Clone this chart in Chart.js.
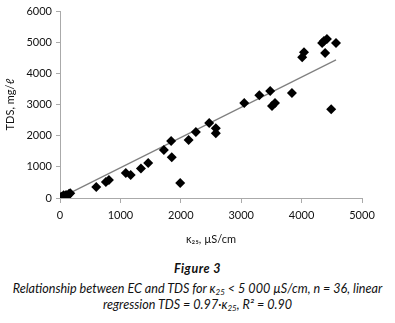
<!DOCTYPE html>
<html>
<head>
<meta charset="utf-8">
<script src="https://cdn.jsdelivr.net/npm/chart.js@4.4.1/dist/chart.umd.min.js"></script>
<style>
  body { margin: 0; background: #fff; }
  #wrap { position: relative; width: 395px; height: 323px; }
  #box { position: absolute; left: 0; top: 0; width: 395px; height: 250px; }
  .cap { position: absolute; left: 0; width: 395px; text-align: center; font-family: Lato, "Open Sans", sans-serif; font-style: italic; color: #111; }
  #fig { top: 261px; font-size: 12.5px; font-weight: bold; letter-spacing: 0.5px; }
  #l1 { top: 281px; font-size: 12.6px; }
  #l2 { top: 297px; font-size: 12.6px; }
  sub { font-size: 8px; vertical-align: -2px; }
</style>
</head>
<body>
<div id="wrap">
  <div id="box"><canvas id="grafica"></canvas></div>
  <div class="cap" id="fig">Figure 3</div>
  <div class="cap" id="l1">Relationship between EC and TDS for κ<sub>25</sub> &lt; 5 000 µS/cm, n = 36, linear</div>
  <div class="cap" id="l2">regression TDS = 0.97·κ<sub>25</sub>, R² = 0.90</div>
</div>
<script>
// conductividad k25 (uS/cm) y TDS (mg/l)
const conductividad = [20, 60, 100, 150, 170, 600, 760, 810, 1090, 1170, 1340, 1460,
    1720, 1840, 1850, 1990, 2130, 2250, 2470, 2580, 2580, 3050, 3300, 3480, 3510, 3560,
    3840, 4010, 4040, 4340, 4370, 4420, 4390, 4570, 4490, 120];
const tds = [40, 90, 100, 140, 150, 350, 510, 580, 800, 740, 950, 1120,
    1540, 1830, 1310, 480, 1860, 2120, 2410, 2240, 2080, 3050, 3300, 3430, 2950, 3050,
    3370, 4520, 4680, 4970, 5040, 5100, 4650, 4970, 2850, 60];
const pendiente = 0.97;
const ticksX = [0, 1000, 2000, 3000, 4000, 5000];
const ticksY = [0, 1000, 2000, 3000, 4000, 5000, 6000];

const puntos = conductividad.map((x, i) => ({ x: x, y: tds[i] }));
const xMin = Math.min(...conductividad);
const xMax = Math.max(...conductividad);
const recta = [{ x: xMin, y: pendiente * xMin }, { x: xMax, y: pendiente * xMax }];

const fuente = { family: 'Lato, "Open Sans", sans-serif', size: 11 };

const ctx = document.getElementById('grafica').getContext('2d');
new Chart(ctx, {
    type: 'scatter',
    data: {
        datasets: [{
            label: 'TDS',
            data: puntos,
            pointStyle: 'rectRot',
            pointRadius: 5,
            backgroundColor: '#000',
            borderColor: '#000',
            borderWidth: 0
        }, {
            type: 'line',
            label: 'Lineal',
            data: recta,
            borderColor: '#808080',
            borderWidth: 1.3,
            pointRadius: 0,
            fill: false
        }]
    },
    options: {
        responsive: true,
        maintainAspectRatio: false,
        animation: false,
        layout: { padding: { top: 11, right: 33, left: 0, bottom: 0 } },
        plugins: { legend: { display: false }, tooltip: { enabled: false } },
        scales: {
            x: {
                type: 'linear',
                min: 0, max: 5000,
                afterBuildTicks: s => { s.ticks = ticksX.map(v => ({ value: v })); },
                afterFit: s => { s.height = 52; },
                grid: { drawOnChartArea: false, drawTicks: true, tickLength: 5, color: '#aaa' },
                border: { color: '#aaa' },
                ticks: { color: '#111', font: fuente, padding: 6, maxRotation: 0, callback: v => String(v) },
                title: { display: true, text: 'κ₂₅, µS/cm', color: '#111', font: { family: fuente.family, size: 11 }, padding: { top: 4 } }
            },
            y: {
                min: 0, max: 6000,
                afterBuildTicks: s => { s.ticks = ticksY.map(v => ({ value: v })); },
                afterFit: s => { s.width = 60; },
                grid: { drawOnChartArea: false, drawTicks: true, tickLength: 4, color: '#aaa' },
                border: { color: '#aaa' },
                ticks: { color: '#111', font: fuente, padding: 4, callback: v => String(v) },
                title: { display: true, text: 'TDS, mg/ℓ', color: '#111', font: { family: fuente.family, size: 11 }, padding: { bottom: 2 } }
            }
        }
    }
});
</script>
</body>
</html>
